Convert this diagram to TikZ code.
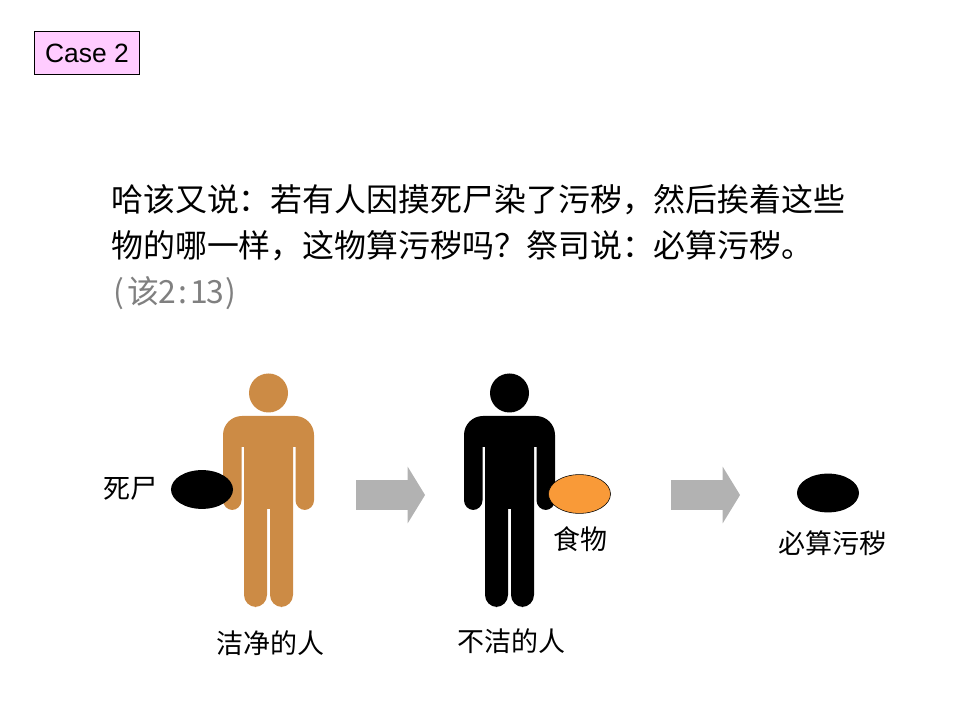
\documentclass[tikz,border=0pt]{standalone}
\usepackage{fontspec}
\setmainfont{Liberation Sans}
\newfontfamily\cjk{Noto Sans CJK SC}
\usepackage{xcolor}
\usetikzlibrary{shapes.geometric, shapes.arrows, positioning}

\definecolor{casepink}{HTML}{FFCCFF}
\definecolor{cleanbrown}{HTML}{CC8B45}
\definecolor{foodorange}{HTML}{F99A38}
\definecolor{arrowgrey}{HTML}{B2B2B2}
\definecolor{refgrey}{HTML}{808080}

\newcommand{\halfcell}[1]{\makebox[0.4cm]{#1}}
\newcommand{\wcomma}{\symbol{"FF0C}}
\newcommand{\wcolon}{\symbol{"FF1A}}
\newcommand{\wquery}{\symbol{"FF1F}}

\tikzset{
  person/.pic={
    \path[pic actions] (0,393) circle [radius=19.5];
    \path[pic actions] (0,416) [rounded corners=13.5pt] -- (45.5,416) [rounded corners=6.9pt] -- (45.5,510) -- (27,510) [sharp corners] -- (27,447) -- (24.5,447)
      [rounded corners=8.6pt] -- (24.5,607) -- (1.5,607) [sharp corners] -- (1.5,509) -- (-1.5,509)
      [rounded corners=8.6pt] -- (-1.5,607) -- (-24.5,607) [sharp corners] -- (-24.5,447) -- (-27,447)
      [rounded corners=6.9pt] -- (-27,510) -- (-45.5,510) [rounded corners=13.5pt] -- (-45.5,416) -- cycle;
  }
}

\begin{document}
\begin{tikzpicture}[
  x=0.025cm, y=-0.025cm,
  casebox/.style={draw, fill=casepink, minimum width=2.62cm, minimum height=1.08cm, inner sep=0pt, font=\fontsize{18.8}{22}\selectfont},
  verse/.style={anchor=base west, inner sep=0pt, font=\cjk\fontsize{22.7}{26}\selectfont},
  lbl/.style={inner sep=0pt, font=\cjk\fontsize{19.2}{23}\selectfont},
  blob/.style={ellipse, minimum width=1.55cm, minimum height=0.97cm, inner sep=0pt},
  arr/.style={single arrow, fill=arrowgrey, minimum height=1.725cm, inner xsep=0pt, inner ysep=0.3625cm, single arrow head extend=0.3375cm, single arrow tip angle=117}
]

\useasboundingbox (0,0) rectangle (960,720);

\node[casebox] (case) at (87,53) {Case 2};

\node[verse] (line1) at (111,212) {哈该又说\wcolon{}若有人因摸死尸染了污秽\wcomma{}然后挨着这些};
\node[verse] (line2) at (111,258) {物的哪一样\wcomma{}这物算污秽吗\wquery{}祭司说\wcolon{}必算污秽。};
\node[verse, text=refgrey] (line3) at (111,304) {\halfcell{(}该\halfcell{2}\halfcell{:}\halfcell{1}\halfcell{3}\halfcell{)}};

\pic[fill=cleanbrown] (clean) at (268.5,0) {person};
\pic[fill=black] (unclean) at (509.5,0) {person};

\node[blob, fill=black] (corpse) at (202,489.5) {};
\node[blob, fill=foodorange, draw=black, line width=0.4pt] (food) at (579.5,494) {};
\node[blob, fill=black] (result) at (828,493) {};

\node[arr] (arrow1) at (386,495) {};
\node[arr] (arrow2) at (701,495) {};

\node[lbl] (corpselbl) at (130,489) {死尸};
\node[lbl] (foodlbl) at (580,539) {食物};
\node[lbl] (resultlbl) at (832,543) {必算污秽};
\node[lbl] (cleanlbl) at (270,643) {洁净的人};
\node[lbl] (uncleanlbl) at (511,641) {不洁的人};

\end{tikzpicture}
\end{document}
